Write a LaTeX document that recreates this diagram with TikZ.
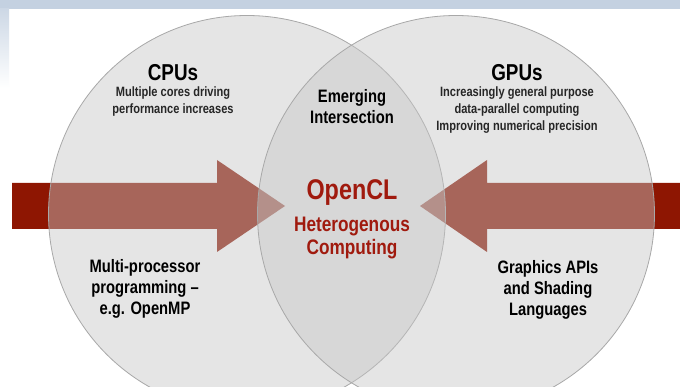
\documentclass[tikz,border=0pt]{standalone}
\usepackage{fontspec}
\setmainfont{Liberation Sans}[FakeStretch=0.82]
\definecolor{arrowred}{RGB}{142,22,2}
\definecolor{clred}{RGB}{160,26,14}
\definecolor{circfill}{RGB}{198,198,198}
\definecolor{circline}{RGB}{168,168,168}
\definecolor{band}{RGB}{196,209,225}
\tikzset{
  venn/.style={fill=circfill, fill opacity=0.45, draw=circline, line width=0.8pt},
  bigarrow/.style={fill=arrowred},
  title/.style={font=\fontsize{23}{26}\selectfont\bfseries, text=black},
  small/.style={font=\fontsize{13.5}{17}\selectfont\bfseries, align=center, text=black!85},
  mid/.style={font=\fontsize{18}{21}\selectfont\bfseries, align=center, text=black},
  redbig/.style={font=\fontsize{28.5}{32}\selectfont\bfseries, text=clred},
  redmid/.style={font=\fontsize{21}{23}\selectfont\bfseries, align=center, text=clred}
}
\begin{document}
\begin{tikzpicture}[x=1pt,y=-1pt]
\useasboundingbox (0,0) rectangle (680,387);
\fill[white] (0,0) rectangle (680,387);
% header band and side strip
\fill[band] (0,0) rectangle (680,9);
\shade[top color=band!85!white, bottom color=white] (0,9) rectangle (9,88);
% arrows
\fill[bigarrow] (12,183) -- (217,183) -- (217,160) -- (285,206) -- (217,252) -- (217,229) -- (12,229) -- cycle;
\fill[bigarrow] (680,183) -- (487,183) -- (487,160) -- (420,206) -- (487,252) -- (487,229) -- (680,229) -- cycle;
% circles
\path[venn] (247,214) circle[radius=198.5];
\path[venn] (456,214) circle[radius=198.5];
% texts
\node[title] (cpu) at (173,72.5) {CPUs};
\node[small] (cpud) at (173,101.5) {Multiple cores driving\\performance increases};
\node[title] (gpu) at (517,72.5) {GPUs};
\node[small] (gpud) at (517,110) {Increasingly general purpose\\data-parallel computing\\Improving numerical precision};
\node[mid] (emerg) at (352,107) {Emerging\\Intersection};
\node[redbig] (ocl) at (352,193) {OpenCL};
\node[redmid] (het) at (352,238) {Heterogenous\\Computing};
\node[mid] (mp) at (145,289) {Multi-processor\\programming –\\e.g. OpenMP};
\node[mid] (gfx) at (548,290) {Graphics APIs\\and Shading\\Languages};
\end{tikzpicture}
\end{document}
